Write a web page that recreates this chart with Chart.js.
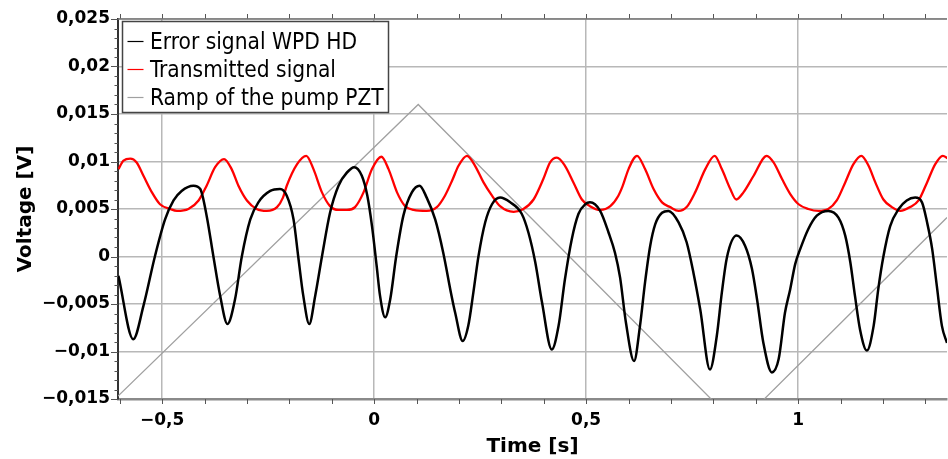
<!DOCTYPE html>
<html>
<head>
<meta charset="utf-8">
<script src="https://cdn.jsdelivr.net/npm/chart.js@4.4.1/dist/chart.umd.min.js"></script>
<style>
  html, body { margin: 0; padding: 0; background: #fff; }
  #wrap { width: 948px; height: 459px; }
</style>
</head>
<body>
<div id="wrap"><canvas id="chart"></canvas></div>
<script>
// Error signal WPD HD (time in s, voltage in V)
const errTime = [
  -0.603, -0.568, -0.544, -0.517, -0.493, -0.473, -0.454, -0.426, -0.410, -0.395,
  -0.379, -0.363, -0.346, -0.328, -0.312, -0.292, -0.273, -0.245, -0.222, -0.206,
  -0.190, -0.179, -0.167, -0.153, -0.139, -0.123, -0.104, -0.084, -0.064, -0.047,
  -0.029, -0.016, -0.005, 0.006, 0.014, 0.026, 0.038, 0.052, 0.069, 0.089,
  0.107, 0.124, 0.144, 0.163, 0.182, 0.191, 0.209, 0.222, 0.234, 0.246,
  0.262, 0.278, 0.297, 0.321, 0.348, 0.364, 0.380, 0.396, 0.419, 0.435,
  0.450, 0.466, 0.482, 0.498, 0.509, 0.533, 0.553, 0.568, 0.580, 0.594,
  0.613, 0.627, 0.639, 0.651, 0.663, 0.679, 0.694, 0.718, 0.737, 0.753,
  0.769, 0.792, 0.808, 0.820, 0.832, 0.855, 0.875, 0.891, 0.903, 0.918,
  0.938, 0.954, 0.969, 0.981, 0.993, 1.005, 1.024, 1.044, 1.071, 1.095,
  1.111, 1.123, 1.134, 1.146, 1.162, 1.178, 1.189, 1.201, 1.217, 1.237,
  1.256, 1.276, 1.292, 1.304, 1.316, 1.327, 1.339, 1.351
];
const errVolt = [
  -0.00204, -0.0087, -0.0052, 0, 0.0039, 0.0059, 0.0069, 0.00745, 0.0071, 0.0043,
  0, -0.00415, -0.0071, -0.0045, 0, 0.0039, 0.0057, 0.0069, 0.0071, 0.0064,
  0.0039, 0, -0.00415, -0.0071, -0.00415, 0, 0.0046, 0.00745, 0.00885, 0.0094,
  0.0085, 0.0064, 0.0032, -0.001, -0.00415, -0.0064, -0.0045, 0, 0.0043, 0.00675,
  0.00745, 0.0062, 0.0039, 0.0004, -0.004, -0.0059, -0.0089, -0.0073, -0.0038, 0,
  0.0036, 0.0055, 0.0062, 0.0057, 0.0045, 0.0025, -0.0006, -0.00485, -0.0098, -0.0073,
  -0.0024, 0.0018, 0.0045, 0.0055, 0.0057, 0.0048, 0.0025, 0.0004, -0.0022, -0.007,
  -0.011, -0.0073, -0.0027, 0.0011, 0.0034, 0.0046, 0.0048, 0.0036, 0.0015, -0.0017,
  -0.00555, -0.0119, -0.0084, -0.0038, -0.0001, 0.0022, 0.0011, -0.0013, -0.0045, -0.0091,
  -0.0122, -0.0108, -0.0059, -0.0035, -0.0008, 0.0008, 0.0029, 0.0043, 0.0048, 0.0041,
  0.0022, -0.0006, -0.00415, -0.0077, -0.0099, -0.0073, -0.0034, 0, 0.0032, 0.005,
  0.0059, 0.0062, 0.0057, 0.0036, 0.0008, -0.0031, -0.0073, -0.0091
];

// Transmitted signal
const transTime = [
  -0.603, -0.591, -0.575, -0.560, -0.544, -0.524, -0.505, -0.481, -0.465, -0.438,
  -0.414, -0.395, -0.375, -0.354, -0.336, -0.320, -0.300, -0.277, -0.253, -0.229,
  -0.215, -0.206, -0.182, -0.160, -0.143, -0.123, -0.104, -0.084, -0.064, -0.045,
  -0.025, -0.005, 0.017, 0.034, 0.054, 0.073, 0.093, 0.124, 0.148, 0.167,
  0.185, 0.199, 0.219, 0.238, 0.258, 0.278, 0.297, 0.329, 0.352, 0.376,
  0.399, 0.415, 0.431, 0.450, 0.470, 0.490, 0.509, 0.533, 0.557, 0.576,
  0.586, 0.600, 0.620, 0.639, 0.659, 0.679, 0.698, 0.718, 0.737, 0.757,
  0.781, 0.803, 0.820, 0.840, 0.854, 0.871, 0.895, 0.926, 0.942, 0.962,
  0.981, 1.001, 1.024, 1.048, 1.071, 1.091, 1.111, 1.130, 1.149, 1.166,
  1.182, 1.201, 1.221, 1.241, 1.264, 1.284, 1.304, 1.323, 1.341, 1.354
];
const transVolt = [
  0.0092, 0.0101, 0.0103, 0.0099, 0.0085, 0.00675, 0.0055, 0.005, 0.0048, 0.005,
  0.0059, 0.00745, 0.0094, 0.01026, 0.0092, 0.00745, 0.0059, 0.005, 0.0048, 0.0052,
  0.0062, 0.00745, 0.0097, 0.0106, 0.0092, 0.00675, 0.0053, 0.0049, 0.0049, 0.0052,
  0.00675, 0.0092, 0.0105, 0.0092, 0.00675, 0.0053, 0.0049, 0.0048, 0.0052, 0.0064,
  0.0081, 0.00955, 0.0106, 0.00955, 0.0078, 0.0064, 0.0053, 0.0047, 0.005, 0.006,
  0.00815, 0.0099, 0.0104, 0.00955, 0.0078, 0.006, 0.0053, 0.0049, 0.0053, 0.0064,
  0.0074, 0.0092, 0.0106, 0.0092, 0.0071, 0.0057, 0.0052, 0.0048, 0.0052, 0.00675,
  0.0092, 0.0106, 0.0092, 0.0071, 0.006, 0.00675, 0.0085, 0.0106, 0.0099, 0.00815,
  0.0066, 0.0055, 0.005, 0.0048, 0.005, 0.0059, 0.0078, 0.0097, 0.0106, 0.00955,
  0.0078, 0.006, 0.0052, 0.0048, 0.0052, 0.0059, 0.0078, 0.0097, 0.0106, 0.0103
];

// Ramp of the pump PZT (turning points of the triangle)
const rampTime = [-0.604, 0.104, 0.857, 1.351];
const rampVolt = [-0.0147, 0.016, -0.0178, 0.0041];

// Axes
const xMin = -0.604, xMax = 1.351;
const yMin = -0.015, yMax = 0.025;
const xMajor = [-0.5, 0, 0.5, 1];
const xTickLabels = ['\u22120,5', '0', '0,5', '1'];
const yMajor = [-0.015, -0.01, -0.005, 0, 0.005, 0.01, 0.015, 0.02, 0.025];
const yTickLabels = ['\u22120,015', '\u22120,01', '\u22120,005', '0', '0,005', '0,01', '0,015', '0,02', '0,025'];

const FONT = '"DejaVu Sans", Verdana, sans-serif';
const toPoints = (xs, ys) => xs.map((x, i) => ({ x, y: ys[i] }));
const majorIndex = (list, v) => list.findIndex((m) => Math.abs(m - v) < 1e-9);

// Tick marks (major/minor lengths differ) and top frame line
const frameTicks = {
  id: 'frameTicks',
  afterDraw(chart) {
    const { ctx, chartArea: a, scales: { x, y } } = chart;
    ctx.save();
    ctx.strokeStyle = '#555';
    ctx.lineWidth = 1;
    ctx.beginPath();
    x.ticks.forEach((t) => {
      const px = Math.round(x.getPixelForValue(t.value)) + 0.5;
      ctx.moveTo(px, a.bottom);
      ctx.lineTo(px, a.bottom + 5);
      ctx.moveTo(px, a.top);
      ctx.lineTo(px, a.top - 5);
    });
    y.ticks.forEach((t) => {
      const py = Math.round(y.getPixelForValue(t.value)) + 0.5;
      const len = majorIndex(yMajor, t.value) >= 0 ? 7 : 3.5;
      ctx.moveTo(a.left - len, py);
      ctx.lineTo(a.left, py);
    });
    ctx.stroke();
    ctx.strokeStyle = '#777';
    ctx.lineWidth = 1.5;
    ctx.beginPath();
    ctx.moveTo(a.left, a.top);
    ctx.lineTo(a.right, a.top);
    ctx.stroke();
    ctx.restore();
  },
};

// Boxed legend inside the plot, top-left
const boxLegend = {
  id: 'boxLegend',
  afterDraw(chart) {
    const { ctx, chartArea: a } = chart;
    const x0 = a.left + 4.5, y0 = a.top + 2.5, w = 266, h = 91;
    ctx.save();
    ctx.fillStyle = '#fff';
    ctx.fillRect(x0, y0, w, h);
    ctx.strokeStyle = '#444';
    ctx.lineWidth = 1.5;
    ctx.strokeRect(x0, y0, w, h);
    ctx.font = '22.5px "DejaVu Sans Condensed", ' + FONT;
    ctx.textBaseline = 'alphabetic';
    chart.data.datasets.forEach((ds, i) => {
      const base = y0 + 27 + i * 28;
      ctx.strokeStyle = ds.borderColor;
      ctx.lineWidth = 1.2;
      ctx.beginPath();
      ctx.moveTo(x0 + 5, base - 7);
      ctx.lineTo(x0 + 21, base - 7);
      ctx.stroke();
      ctx.fillStyle = '#000';
      ctx.fillText(ds.label, x0 + 27.5, base);
    });
    ctx.restore();
  },
};

new Chart(document.getElementById('chart'), {
  type: 'line',
  data: {
    datasets: [
      {
        label: 'Error signal WPD HD',
        data: toPoints(errTime, errVolt),
        borderColor: '#000000',
        borderWidth: 2.5,
        pointRadius: 0,
        cubicInterpolationMode: 'monotone',
      },
      {
        label: 'Transmitted signal',
        data: toPoints(transTime, transVolt),
        borderColor: '#ff0000',
        borderWidth: 2.3,
        pointRadius: 0,
        cubicInterpolationMode: 'monotone',
      },
      {
        label: 'Ramp of the pump PZT',
        data: toPoints(rampTime, rampVolt),
        borderColor: '#a0a0a0',
        borderWidth: 1.3,
        pointRadius: 0,
        tension: 0,
      },
    ],
  },
  options: {
    responsive: true,
    maintainAspectRatio: false,
    animation: false,
    layout: { padding: { top: 19, right: 1, bottom: 0, left: 0 } },
    plugins: { legend: { display: false }, tooltip: { enabled: false } },
    scales: {
      x: {
        type: 'linear',
        min: xMin,
        max: xMax,
        afterFit: (s) => { s.height = 60; },
        border: { color: '#8a8a8a', width: 2.5 },
        grid: {
          drawTicks: false,
          lineWidth: 1.5,
          color: (c) => (majorIndex(xMajor, c.tick.value) >= 0 ? '#b8b8b8' : 'rgba(0,0,0,0)'),
        },
        ticks: {
          stepSize: 0.1,
          includeBounds: false,
          autoSkip: false,
          maxRotation: 0,
          padding: 11,
          color: '#000',
          font: { family: FONT, size: 17, weight: 'bold' },
          callback: (v) => { const i = majorIndex(xMajor, v); return i < 0 ? '' : xTickLabels[i]; },
        },
        title: {
          display: true,
          text: 'Time [s]',
          color: '#000',
          font: { family: FONT, size: 20, weight: 'bold' },
          padding: { top: 0, bottom: 0 },
        },
      },
      y: {
        type: 'linear',
        min: yMin,
        max: yMax,
        afterFit: (s) => { s.width = 118; },
        border: { color: '#333', width: 2 },
        grid: {
          drawTicks: false,
          lineWidth: 1.5,
          color: (c) => (majorIndex(yMajor, c.tick.value) >= 0 ? '#b8b8b8' : 'rgba(0,0,0,0)'),
        },
        ticks: {
          stepSize: 0.001,
          includeBounds: false,
          autoSkip: false,
          padding: 8,
          color: '#000',
          font: { family: FONT, size: 17, weight: 'bold' },
          callback: (v) => { const i = majorIndex(yMajor, v); return i < 0 ? '' : yTickLabels[i]; },
        },
        title: {
          display: true,
          text: 'Voltage [V]',
          color: '#000',
          font: { family: FONT, size: 20, weight: 'bold' },
          padding: { top: 14, bottom: 0 },
        },
      },
    },
  },
  plugins: [frameTicks, boxLegend],
});
</script>
</body>
</html>
